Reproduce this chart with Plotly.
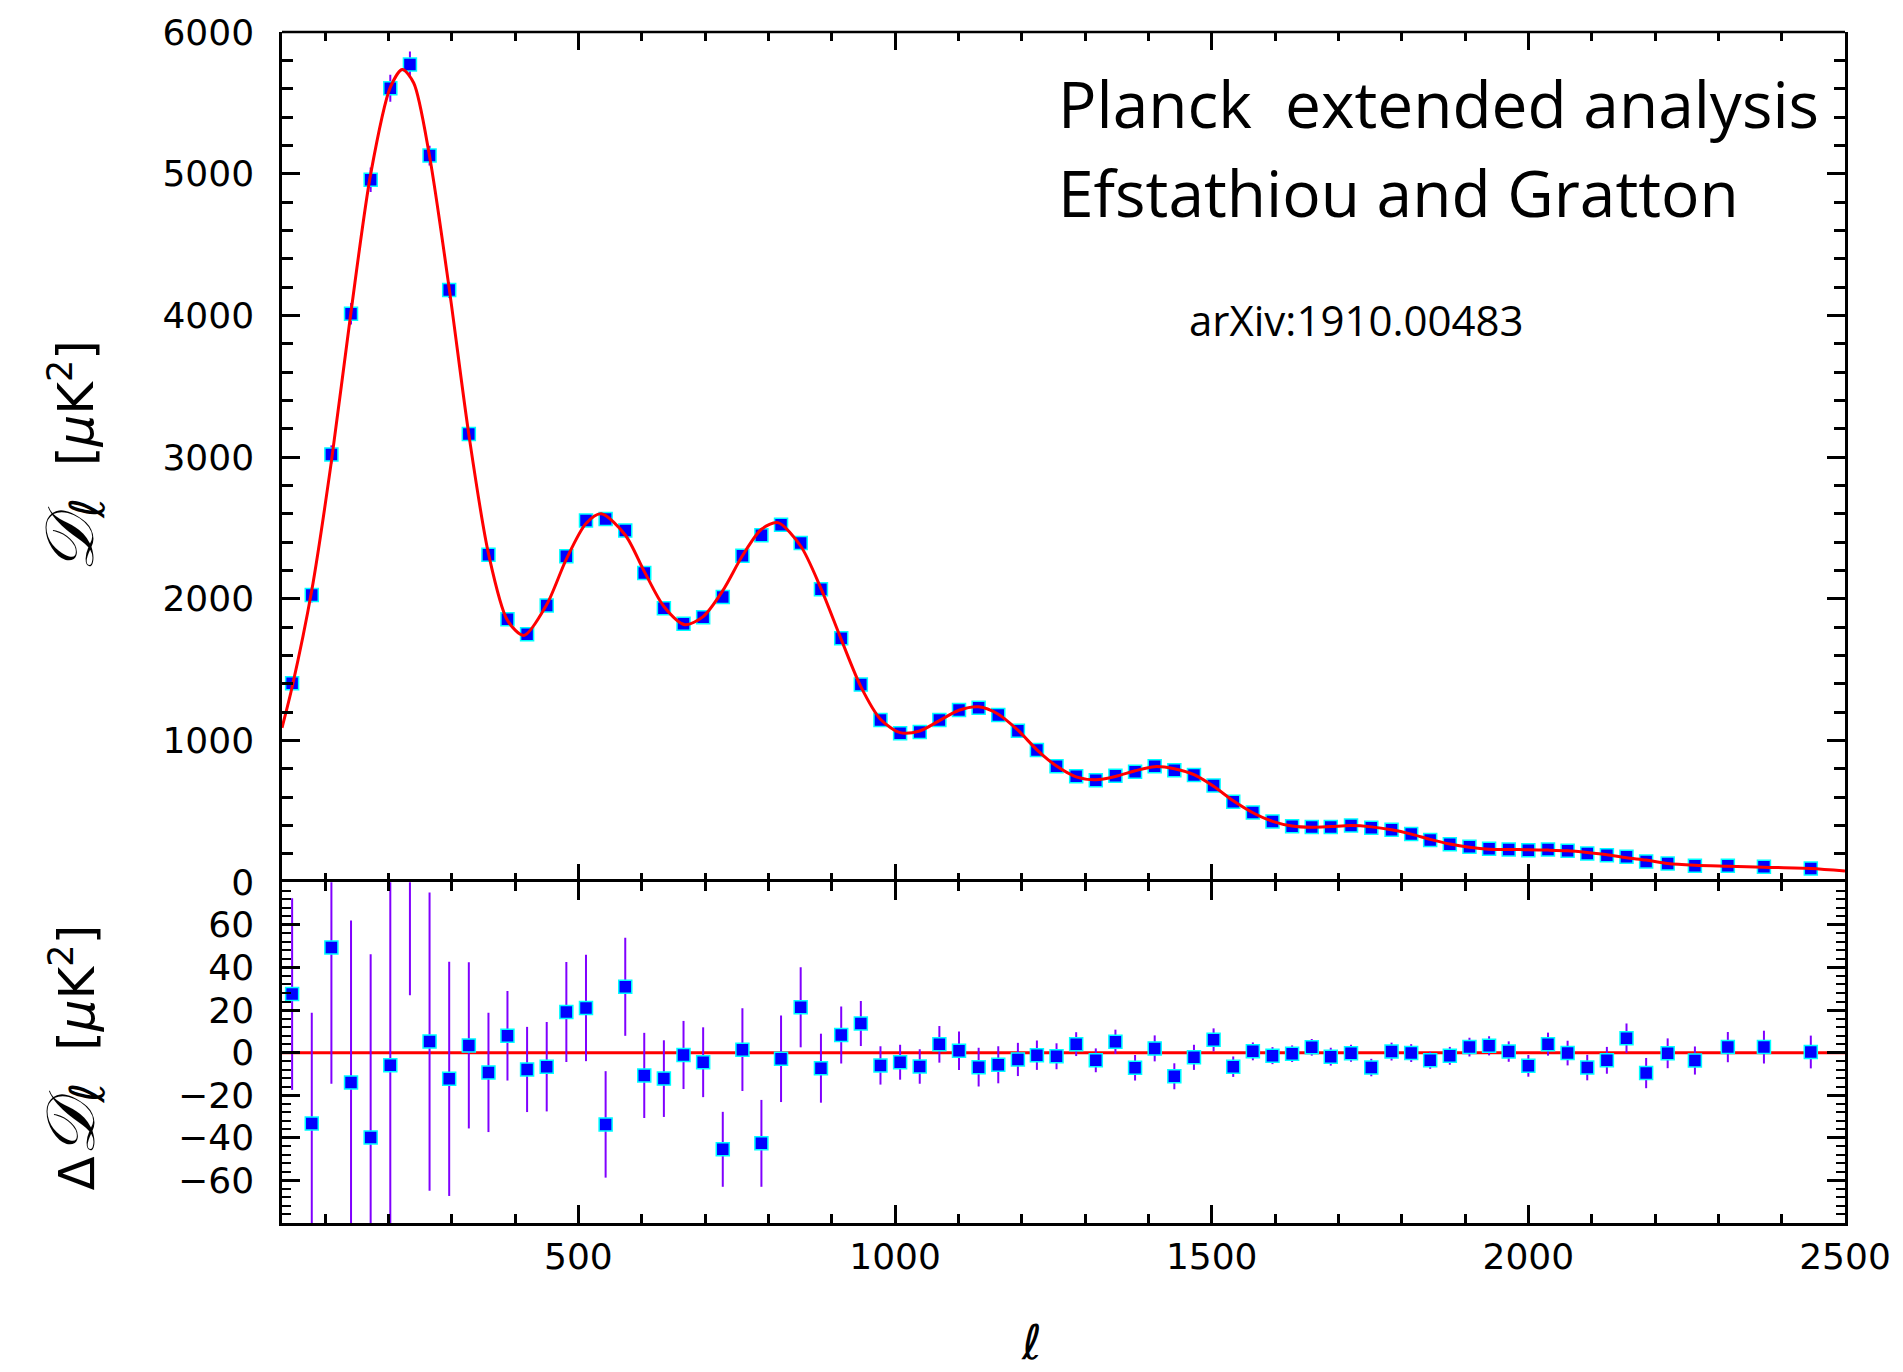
import plotly.graph_objects as go

# ---------------- data ----------------
ell = [48, 79, 110, 141, 172, 203, 234, 265, 296, 327, 358, 388, 419, 450, 481,
       512, 543, 574, 604, 635, 666, 697, 728, 759, 789, 820, 851, 883, 915, 946,
       977, 1008, 1039, 1070, 1101, 1132, 1163, 1194, 1224, 1255, 1286, 1317, 1348,
       1379, 1410, 1441, 1472, 1503, 1534, 1565, 1596, 1627, 1658, 1688, 1720, 1752,
       1784, 1815, 1845, 1876, 1907, 1938, 1969, 2000, 2031, 2062, 2093, 2124, 2155,
       2186, 2220, 2263, 2315, 2372, 2446]

dl = [1405, 2027, 3019, 4012, 4957, 5603, 5770, 5128, 4179, 3163, 2311, 1856, 1751,
      1953, 2300, 2553, 2564, 2482, 2183, 1934, 1825, 1870, 2013, 2305, 2448, 2523,
      2394, 2067, 1722, 1395, 1145, 1051, 1061, 1145, 1215, 1231, 1180, 1070, 934,
      818, 748, 720, 752, 780, 818, 790, 757, 683, 568, 492, 429, 396, 391, 391, 400,
      384, 370, 340, 299, 268, 250, 236, 231, 226, 231, 222, 203, 191, 180, 147, 133,
      117, 117, 110, 98]

resid = [27.5, -33.3, 49.4, -14.0, -39.8, -5.9, 120.0, 5.2, -12.3, 3.4, -9.3, 7.9,
         -7.9, -6.6, 19.1, 21.0, -33.7, 30.9, -10.7, -12.2, -1.1, -4.5, -45.4, 1.4,
         -42.6, -2.9, 21.3, -7.3, 8.3, 13.7, -6.0, -4.5, -6.5, 3.9, 0.9, -6.8, -5.7,
         -3.2, -1.2, -1.7, 4.0, -3.6, 5.1, -7.1, 2.0, -11.1, -2.2, 6.0, -6.6, 0.6,
         -1.4, -0.5, 2.5, -1.9, -0.3, -7.0, 0.5, -0.2, -3.6, -1.5, 2.6, 3.2, 0.5,
         -6.2, 4.0, -0.2, -7.0, -3.6, 6.8, -9.6, -0.3, -3.7, 2.6, 2.6, 0.3]

err = [45, 52, 64, 76, 86, 95, 93, 70, 55, 39, 28, 21, 20, 21, 23.5, 25, 25, 23,
       20, 18, 16, 16.4, 17.6, 19.4, 20.4, 20.3, 18.8, 16.2, 13.4, 10.6, 9, 8.2, 8.1,
       8.6, 9, 9.1, 8.7, 7.8, 6.9, 6.1, 5.6, 5.6, 5.7, 6, 6.1, 6.1, 5.9, 5.4, 4.8,
       4.2, 4, 3.9, 3.9, 4.2, 4, 4.1, 4.2, 4.2, 4, 4.2, 4.4, 4.5, 4.8, 5.1, 5.4, 5.8,
       6, 6.3, 6.9, 7.1, 7, 6.6, 7.1, 7.7, 7.7]

# best-fit theory curve
ell_model = [32, 48, 79, 110, 141, 172, 203, 222, 240, 265, 296, 327, 358, 388, 414,
             450, 481, 512, 536, 574, 604, 635, 668, 697, 728, 759, 789, 815, 851,
             883, 915, 946, 977, 1008, 1039, 1070, 1101, 1132, 1163, 1194, 1224, 1255,
             1286, 1317, 1348, 1379, 1410, 1441, 1472, 1503, 1534, 1565, 1596, 1627,
             1658, 1688, 1720, 1752, 1784, 1815, 1845, 1876, 1907, 1938, 1969, 2000,
             2031, 2062, 2093, 2124, 2155, 2186, 2220, 2263, 2315, 2372, 2446, 2500]
dl_model = [1090, 1378, 2060, 2970, 4026, 4997, 5609, 5735, 5640, 5123, 4191, 3160,
            2320, 1848, 1742, 1960, 2281, 2532, 2600, 2451, 2194, 1946, 1818, 1875,
            2058, 2304, 2491, 2538, 2373, 2074, 1714, 1381, 1151, 1056, 1068, 1141,
            1214, 1238, 1186, 1073, 935, 820, 744, 724, 747, 787, 816, 801, 759, 677,
            575, 491, 430, 397, 388, 393, 400, 391, 370, 340, 303, 270, 247, 233, 231,
            230, 227, 222, 210, 195, 173, 157, 133, 121, 114, 107, 98, 80]

x_ticks = [500, 1000, 1500, 2000, 2500]
y_ticks_main = [0, 1000, 2000, 3000, 4000, 5000, 6000]
y_ticks_res = [-60, -40, -20, 0, 20, 40, 60]

# ---------------- styling ----------------
FONT = "DejaVu Sans"
TEXTFONT = "Open Sans"
SPLIT = 343 / 1199.0
LW = 2.5

fig = go.Figure()

fig.add_trace(go.Scatter(
    x=ell, y=dl, mode="markers", xaxis="x", yaxis="y",
    marker=dict(symbol="square", size=13, color="#0000FF",
                line=dict(color="#00FFFF", width=1.5)),
    error_y=dict(type="data", array=err, color="#8000FF", thickness=2, width=0),
    showlegend=False))

fig.add_trace(go.Scatter(
    x=ell_model, y=dl_model, mode="lines", xaxis="x", yaxis="y",
    line=dict(color="#FF0000", width=3, shape="spline", smoothing=0.8),
    showlegend=False))

fig.add_trace(go.Scatter(
    x=ell, y=resid, mode="markers", xaxis="x2", yaxis="y2",
    marker=dict(symbol="square", size=13, color="#0000FF",
                line=dict(color="#00FFFF", width=1.5)),
    error_y=dict(type="data", array=err, color="#8000FF", thickness=2, width=0),
    showlegend=False))

tickfont = dict(family=FONT, size=36, color="black")
common = dict(linecolor="black", linewidth=LW, mirror="ticks",
              ticks="inside", tickcolor="black", tickwidth=LW, ticklen=18,
              showgrid=False, zeroline=False, tickfont=tickfont)

fig.update_layout(
    width=1903, height=1372,
    margin=dict(l=282, r=54, t=24, b=149),
    paper_bgcolor="white", plot_bgcolor="white",
    xaxis=dict(domain=[0, 1], anchor="y", range=[32, 2500], showline=False,
               tickmode="array", tickvals=x_ticks, showticklabels=False,
               minor=dict(dtick=100, tick0=0, ticks="inside", ticklen=9,
                          tickwidth=LW, tickcolor="black"),
               **common),
    xaxis2=dict(domain=[0, 1], anchor="y2", range=[32, 2500], matches="x",
                showline=True,
                tickmode="array", tickvals=x_ticks,
                ticktext=[str(v) for v in x_ticks],
                ticklabelstandoff=0,
                minor=dict(dtick=100, tick0=0, ticks="inside", ticklen=9,
                           tickwidth=LW, tickcolor="black"),
                **common),
    yaxis=dict(domain=[SPLIT, 1], anchor="x", range=[0, 6000], showline=True,
               tickmode="array", tickvals=y_ticks_main,
               ticklabelstandoff=18,
               minor=dict(dtick=200, tick0=0, ticks="inside", ticklen=11,
                          tickwidth=LW, tickcolor="black"),
               **common),
    yaxis2=dict(domain=[0, SPLIT], anchor="x2", range=[-80, 80], showline=True,
                tickmode="array", tickvals=y_ticks_res,
                ticktext=[str(v).replace("-", "\u2212") for v in y_ticks_res],
                ticklabelstandoff=18,
                minor=dict(dtick=4, tick0=0, ticks="inside", ticklen=9,
                           tickwidth=2, tickcolor="black"),
                **common),
    shapes=[
        dict(type="line", xref="x2 domain", yref="y2", x0=0, x1=1, y0=0, y1=0,
             line=dict(color="#FF0000", width=3), layer="below"),
        dict(type="line", xref="x domain", yref="y domain", x0=0, x1=1, y0=1, y1=1,
             line=dict(color="black", width=LW), layer="above"),
    ],
)

DSCRIPT = "<span style='font-size:68px'><i>\U0001D49F</i></span>"
ELLSUB = "<sub><span style='font-size:48px'><i>\u2113</i></span></sub>"

annotations = [
    dict(text="Planck  extended analysis", x=0.4952, y=0.940, xanchor="left",
         yanchor="middle", font=dict(family=TEXTFONT, size=64, color="black")),
    dict(text="Efstathiou and Gratton", x=0.4952, y=0.8653, xanchor="left",
         yanchor="middle", font=dict(family=TEXTFONT, size=64, color="black")),
    dict(text="arXiv:1910.00483", x=0.6873, y=0.7586, xanchor="center",
         yanchor="middle", font=dict(family=TEXTFONT, size=42, color="black")),
    dict(text=DSCRIPT + ELLSUB + "  [<i>\u03bc</i>K<sup>2</sup>]",
         x=-0.134, y=0.6439, xanchor="center", yanchor="middle", textangle=-90,
         font=dict(family=FONT, size=50, color="black")),
    dict(text="\u0394" + DSCRIPT + ELLSUB + "  [<i>\u03bc</i>K<sup>2</sup>]",
         x=-0.134, y=0.1385, xanchor="center", yanchor="middle", textangle=-90,
         font=dict(family=FONT, size=50, color="black")),
    dict(text="<i>\u2113</i>", x=0.4793, y=-0.1000, xanchor="center", yanchor="middle",
         font=dict(family=FONT, size=48, color="black")),
]
for a in annotations:
    a.update(xref="paper", yref="paper", showarrow=False)
fig.update_layout(annotations=annotations)

fig.write_html("out.html")
